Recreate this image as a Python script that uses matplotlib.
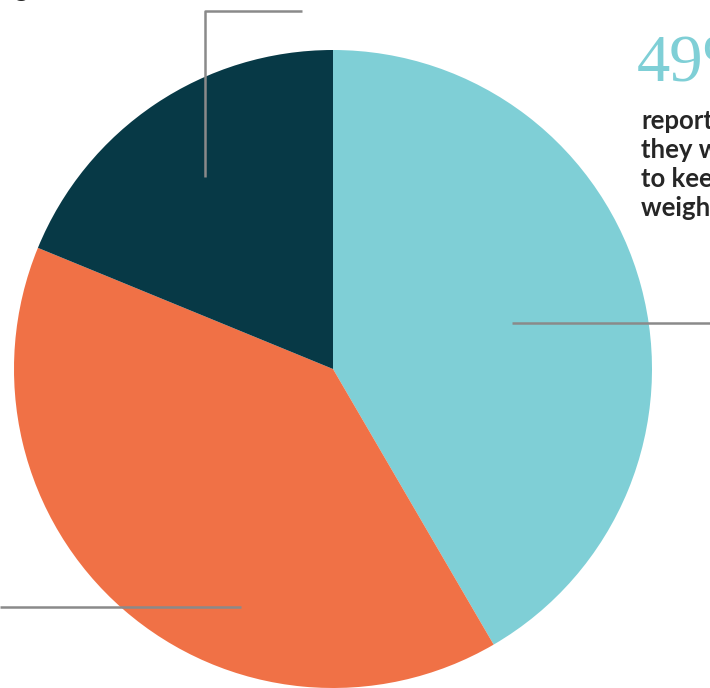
import matplotlib
matplotlib.use('Agg')
from matplotlib import pyplot as plt

# slice shares (percent), read clockwise from 12 o'clock
shares = [41.6, 39.6, 18.8]
colors = ['#7fcfd6', '#f07146', '#073946']

big_number = '49%'
caption = ['reported', 'they want', 'to keep', 'weight off']

W, H = 710, 688

fig = plt.figure(figsize=(W / 100, H / 100), dpi=100)
ax = fig.add_axes([0, 0, 1, 1])

# pixel-like coords, y going up
ax.pie(shares, colors=colors, startangle=90, counterclock=False,
       center=(333, H - 369), radius=319,
       wedgeprops={'linewidth': 0})
ax.set_xlim(0, W)
ax.set_ylim(0, H)
ax.set_aspect('equal')
ax.axis('off')

line_kw = dict(color='#8a8a8a', lw=1.8, solid_capstyle='butt')
# leader lines
ax.plot([302, 205, 205], [H - 11, H - 11, H - 177], **line_kw)
ax.plot([512, W], [H - 323, H - 323], **line_kw)
ax.plot([0, 241], [H - 607, H - 607], **line_kw)

# callout text (runs off the right edge in the original crop)
ax.text(637, H - 82, big_number, color='#7fcfd6', fontsize=48,
        family='Liberation Serif', va='baseline', ha='left')
for i, line in enumerate(caption):
    ax.text(641, H - 129 - i * 29, line, color='#262626', fontsize=18.5,
            fontweight='bold', family='Lato', va='baseline', ha='left')

ax.text(14, H + 3, 'g', color='#262626', fontsize=18, fontweight='bold',
        family='Lato', va='baseline', ha='left')

fig.savefig('out.png', dpi=100)
